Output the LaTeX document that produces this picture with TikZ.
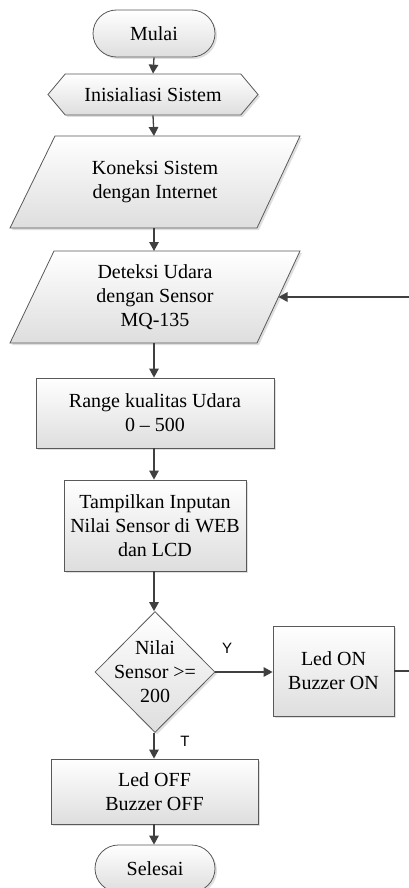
\documentclass[tikz,border=0pt]{standalone}
\usepackage{fontspec}
\setmainfont{Liberation Serif}
\newfontfamily\lsans{Liberation Sans}
\usetikzlibrary{arrows.meta,shapes.geometric,shapes.misc,shapes.symbols,shadows}

\tikzset{
 box/.style={draw=black!65, line width=0.8pt, top color=white, bottom color=black!13,
   drop shadow={shadow xshift=2pt,shadow yshift=-2pt,opacity=0.25}},
 txt/.style={align=center, font=\fontsize{20}{24}\selectfont, inner sep=0pt},
 procbox/.style={box, txt, rectangle},
 term/.style={box, txt, rounded rectangle},
 prep/.style={box, txt, signal, signal to=west and east, signal pointer angle=100},
 dec/.style={box, diamond, inner sep=0pt},
 arr/.style={draw=black!75, line width=1.3pt, -{Triangle[length=9pt,width=9.5pt]}},
 lbl/.style={font=\lsans\fontsize{15}{18}\selectfont, inner sep=0pt},
}

\begin{document}
\begin{tikzpicture}[x=1pt,y=1pt]
\useasboundingbox (0,0) rectangle (409,-888);

% shapes
\node[term, minimum width=122pt, minimum height=47pt] (mulai) at (154,-33.5) {Mulai};
\node[prep, minimum width=210pt, minimum height=41pt] (init) at (153,-94.5) {Inisialiasi Sistem};

\path[box] (55,-136) -- (300,-136) -- (257,-228) -- (10,-228) -- cycle;
\node[txt] (koneksi) at (155,-182) {Koneksi Sistem\\dengan Internet};
\coordinate (kontop) at (154,-136);
\coordinate (konbot) at (154,-228);

\path[box] (54,-251) -- (300,-251) -- (257,-343) -- (10,-343) -- cycle;
\node[txt] (deteksi) at (155,-297) {Deteksi Udara\\dengan Sensor\\MQ-135};
\coordinate (dettop) at (154,-251);
\coordinate (detbot) at (154,-343);
\coordinate (detright) at (278.5,-297);

\node[procbox, minimum width=238pt, minimum height=70pt] (range) at (155,-413) {Range kualitas Udara\\0 -- 500};
\node[procbox, minimum width=182pt, minimum height=91pt] (tampil) at (155,-525.5) {Tampilkan Inputan\\Nilai Sensor di WEB\\dan LCD};

\node[dec, minimum width=120pt, minimum height=121pt] (dia) at (155,-672) {};
\node[txt] (diatext) at (dia.center) {Nilai\\Sensor >=\\200};

\node[procbox, minimum width=121pt, minimum height=90pt] (ledon) at (333.5,-671) {Led ON\\Buzzer ON};
\node[procbox, minimum width=207pt, minimum height=65pt] (ledoff) at (154.5,-791.5) {Led OFF\\Buzzer OFF};
\node[term, minimum width=120pt, minimum height=47pt] (selesai) at (155,-868.5) {Selesai};

% connectors
\draw[arr] (mulai.south) -- (init.north);
\draw[arr] (init.south) -- (kontop);
\draw[arr] (konbot) -- (dettop);
\draw[arr] (detbot) -- (range.north -| detbot);
\draw[arr] (range.south -| detbot) -- (tampil.north -| detbot);
\draw[arr] (tampil.south -| detbot) -- (dia.north -| detbot);
\draw[arr] (dia.east) -- (ledon.west |- dia.east);
\draw[arr] (dia.south -| detbot) -- (ledoff.north -| detbot);
\draw[arr] (ledoff.south -| detbot) -- (selesai.north -| detbot);
\draw[arr] (ledon.east) -- ++(30,0) |- (detright);

\node[lbl] (ylab) at (227,-648) {Y};
\node[lbl] (tlab) at (185,-741) {T};
\end{tikzpicture}
\end{document}
